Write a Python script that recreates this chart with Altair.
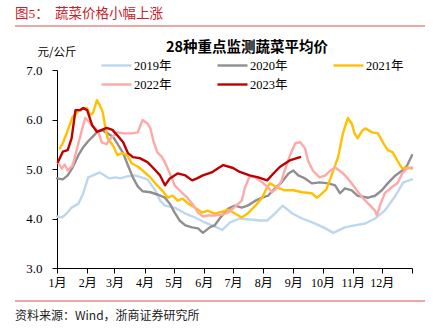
import altair as alt
import pandas as pd

years = ["2019年", "2020年", "2021年", "2022年", "2023年"]
colors = ["#bdd7ee", "#8f8f8f", "#ffc000", "#ffa8a8", "#c00000"]
widths = [2.4, 2.4, 2.4, 2.4, 4.0]

month_labels = ["1月", "2月", "3月", "4月", "5月", "6月", "7月", "8月", "9月", "10月", "11月", "12月", ""]
month_days = [0, 31, 59, 90, 120, 151, 181, 212, 243, 273, 304, 334, 365]
y_ticks = [3, 4, 5, 6, 7]

d2019 = [0, 5, 10, 15, 22, 27, 32, 37, 44, 49, 54, 60, 65, 72, 80, 87, 93, 101, 106, 111,
         121, 132, 142, 152, 162, 170, 178, 188, 198, 209, 216, 224, 232, 242, 252, 265, 276, 284, 296, 306,
         317, 327, 337, 348, 356, 365]
v2019 = [4.04, 4.02, 4.10, 4.22, 4.30, 4.51, 4.83, 4.87, 4.93, 4.87, 4.81, 4.83, 4.81, 4.85, 4.87, 4.83, 4.79, 4.57, 4.36, 4.26,
         4.22, 4.10, 4.02, 3.92, 3.84, 3.77, 3.92, 4.00, 3.98, 3.96, 3.96, 4.10, 4.26, 4.10, 4.00, 3.90, 3.80, 3.71, 3.82, 3.86,
         3.90, 4.00, 4.16, 4.46, 4.73, 4.79]

d2020 = [0, 6, 11, 16, 22, 27, 32, 37, 42, 47, 52, 58, 63, 68, 73, 78, 83, 88, 96, 104,
         111, 116, 121, 126, 132, 139, 145, 150, 157, 162, 168, 176, 183, 190, 196, 204, 211, 217, 224, 231,
         238, 243, 248, 255, 262, 270, 279, 286, 291, 296, 303, 309, 320, 327, 334, 340, 348, 355, 360, 365]
v2020 = [4.81, 4.79, 4.87, 5.03, 5.28, 5.44, 5.56, 5.66, 5.76, 5.78, 5.72, 5.64, 5.48, 5.32, 5.07, 4.83, 4.65, 4.55, 4.53, 4.48,
         4.42, 4.30, 4.12, 3.96, 3.86, 3.82, 3.80, 3.71, 3.82, 3.86, 4.02, 4.20, 4.26, 4.22, 4.26, 4.36, 4.42, 4.46, 4.61, 4.73,
         4.91, 4.97, 4.87, 4.81, 4.71, 4.73, 4.71, 4.67, 4.51, 4.61, 4.57, 4.46, 4.42, 4.46, 4.57, 4.71, 4.87, 4.97, 5.07, 5.28]

d2021 = [3, 6, 11, 16, 22, 27, 31, 34, 37, 41, 44, 47, 49, 52, 58, 62, 67, 72, 77, 83,
         88, 96, 101, 108, 114, 119, 124, 129, 135, 142, 149, 155, 162, 170, 176, 183, 190, 196, 204, 211,
         216, 219, 226, 234, 243, 252, 262, 267, 270, 277, 283, 289, 294, 299, 303, 306, 309, 314, 317, 324,
         330, 335, 340, 345, 350, 355, 360, 365]
v2021 = [5.42, 5.52, 5.78, 6.05, 6.17, 6.23, 6.23, 6.09, 6.13, 6.39, 6.29, 6.15, 5.92, 5.62, 5.46, 5.28, 5.32, 5.28, 5.11, 5.05,
         4.97, 4.83, 4.71, 4.57, 4.42, 4.46, 4.36, 4.40, 4.30, 4.22, 4.12, 4.16, 4.10, 4.14, 4.18, 4.10, 4.02, 4.10, 4.26, 4.42,
         4.63, 4.71, 4.63, 4.57, 4.57, 4.53, 4.51, 4.42, 4.46, 4.59, 4.91, 5.24, 5.72, 6.03, 5.92, 5.72, 5.62, 5.78, 5.82, 5.74,
         5.72, 5.54, 5.38, 5.34, 5.17, 5.01, 5.03, 5.01]

d2022 = [1, 5, 8, 11, 16, 21, 26, 29, 32, 37, 42, 46, 51, 54, 62, 68, 77, 83, 88, 93,
         96, 99, 103, 108, 111, 116, 121, 129, 134, 139, 145, 150, 155, 162, 170, 176, 183, 190, 193, 198,
         204, 211, 217, 221, 227, 231, 234, 240, 245, 250, 255, 258, 263, 270, 276, 281, 286, 293, 299, 306,
         314, 320, 327, 329, 332, 337, 344, 350, 355, 360, 365]
v2022 = [5.13, 5.01, 5.09, 4.97, 5.07, 5.44, 5.82, 6.03, 5.97, 5.86, 5.78, 5.54, 5.50, 5.60, 5.74, 5.72, 5.72, 5.74, 5.99, 5.92,
         5.82, 5.58, 5.34, 5.24, 5.13, 4.91, 4.67, 4.51, 4.42, 4.30, 4.12, 4.04, 4.06, 4.06, 4.08, 4.12, 4.24, 4.36, 4.61, 4.85,
         4.83, 4.73, 4.63, 4.53, 4.63, 4.77, 4.97, 5.30, 5.52, 5.54, 5.42, 5.17, 4.97, 4.83, 4.87, 4.97, 5.03, 4.93, 4.81, 4.63,
         4.42, 4.30, 4.16, 4.06, 4.26, 4.51, 4.63, 4.71, 4.91, 5.01, 5.03]

d2023 = [1, 6, 11, 15, 19, 24, 27, 31, 36, 41, 46, 51, 57, 62, 68, 73, 78, 85, 93, 99,
         106, 111, 116, 124, 132, 139, 144, 150, 159, 166, 171, 181, 188, 198, 207, 216, 224, 229, 240, 250]
v2023 = [5.14, 5.35, 5.38, 5.62, 6.19, 6.19, 6.23, 6.19, 5.89, 5.75, 5.79, 5.83, 5.79, 5.68, 5.54, 5.32, 5.24, 5.22, 5.14, 5.02,
         4.87, 4.67, 4.81, 4.91, 4.87, 4.77, 4.81, 4.87, 4.93, 5.02, 5.08, 5.02, 4.94, 4.87, 4.83, 4.77, 4.94, 5.04, 5.18, 5.24]

rows = []
for name, ds, vs in zip(years, [d2019, d2020, d2021, d2022, d2023], [v2019, v2020, v2021, v2022, v2023]):
    for d, v in zip(ds, vs):
        rows.append({"year": name, "day": d, "price": v})
df = pd.DataFrame(rows)

SERIF = "Liberation Serif, Noto Sans CJK SC"
CJK = "Noto Sans CJK SC"

label_expr = "[" + ",".join("'%s'" % m for m in month_labels) + "][indexof([" + ",".join(str(d) for d in month_days) + "], datum.value)]"

legend = alt.Legend(
    title=None, orient="none", legendX=43, legendY=-11, columns=3, direction="horizontal",
    symbolType="M-1,0H5", symbolSize=100, labelFont=SERIF, labelFontSize=12.5,
    labelColor="black", labelOffset=21, columnPadding=40, rowPadding=6, padding=0,
)

lines = alt.Chart(df).mark_line(strokeCap="round", strokeJoin="round").encode(
    x=alt.X("day:Q", scale=alt.Scale(domain=[0, 365], nice=False, zero=False),
            axis=alt.Axis(values=month_days, labelExpr=label_expr, title=None, grid=False,
                          tickSize=5, labelPadding=4, domainColor="black", tickColor="black",
                          labelColor="black", labelFont=SERIF, labelFontSize=12, labelAngle=0,
                          labelFlush=False, labelOverlap=False)),
    y=alt.Y("price:Q", scale=alt.Scale(domain=[3, 7], nice=False, zero=False),
            axis=alt.Axis(values=y_ticks, format=".1f", title="元/公斤", titleAngle=0, titleX=-20, titleY=-18,
                          titleAlign="left", titleBaseline="middle", titleFontWeight="normal",
                          titleFontSize=11.5, titleFont=CJK, titleColor="black", grid=False, tickSize=5,
                          labelPadding=10, labelFontSize=13, labelFont=SERIF, domainColor="black",
                          tickColor="black", labelColor="black")),
    color=alt.Color("year:N", scale=alt.Scale(domain=years, range=colors), legend=legend),
    strokeWidth=alt.StrokeWidth("year:N", scale=alt.Scale(domain=years, range=widths), legend=legend),
)


def text(t, x, y, size, color, weight="normal", align="left", font=CJK):
    return alt.Chart(pd.DataFrame({"t": [t]})).mark_text(
        align=align, baseline="middle", fontSize=size, color=color, fontWeight=weight, font=font
    ).encode(x=alt.value(x), y=alt.value(y), text="t:N")


def hline(y):
    return alt.Chart(pd.DataFrame({"a": [0]})).mark_rule(color="#d9534f", strokeWidth=1.2).encode(
        x=alt.value(-42), x2=alt.value(368), y=alt.value(y))


caption_a = text("图5：", -42, -56, 13.5, "#c8202a", font=SERIF)
caption_b = text("蔬菜价格小幅上涨", -2, -56, 13.5, "#c8202a")
title = text("28种重点监测蔬菜平均价", 190, -22, 14.5, "black", weight="bold", align="center")
source = text("资料来源：Wind，浙商证券研究所", -42, 246, 12, "#222222")

chart = alt.layer(
    lines, caption_a, caption_b, title, source, hline(-44), hline(231)
).properties(
    width=355, height=198,
    autosize=alt.AutoSizeParams(type="none"),
    padding={"left": 57, "top": 70, "right": 22, "bottom": 67},
).configure_view(stroke=None)

chart.save("out.html", embed_options={"renderer": "svg", "actions": False})
